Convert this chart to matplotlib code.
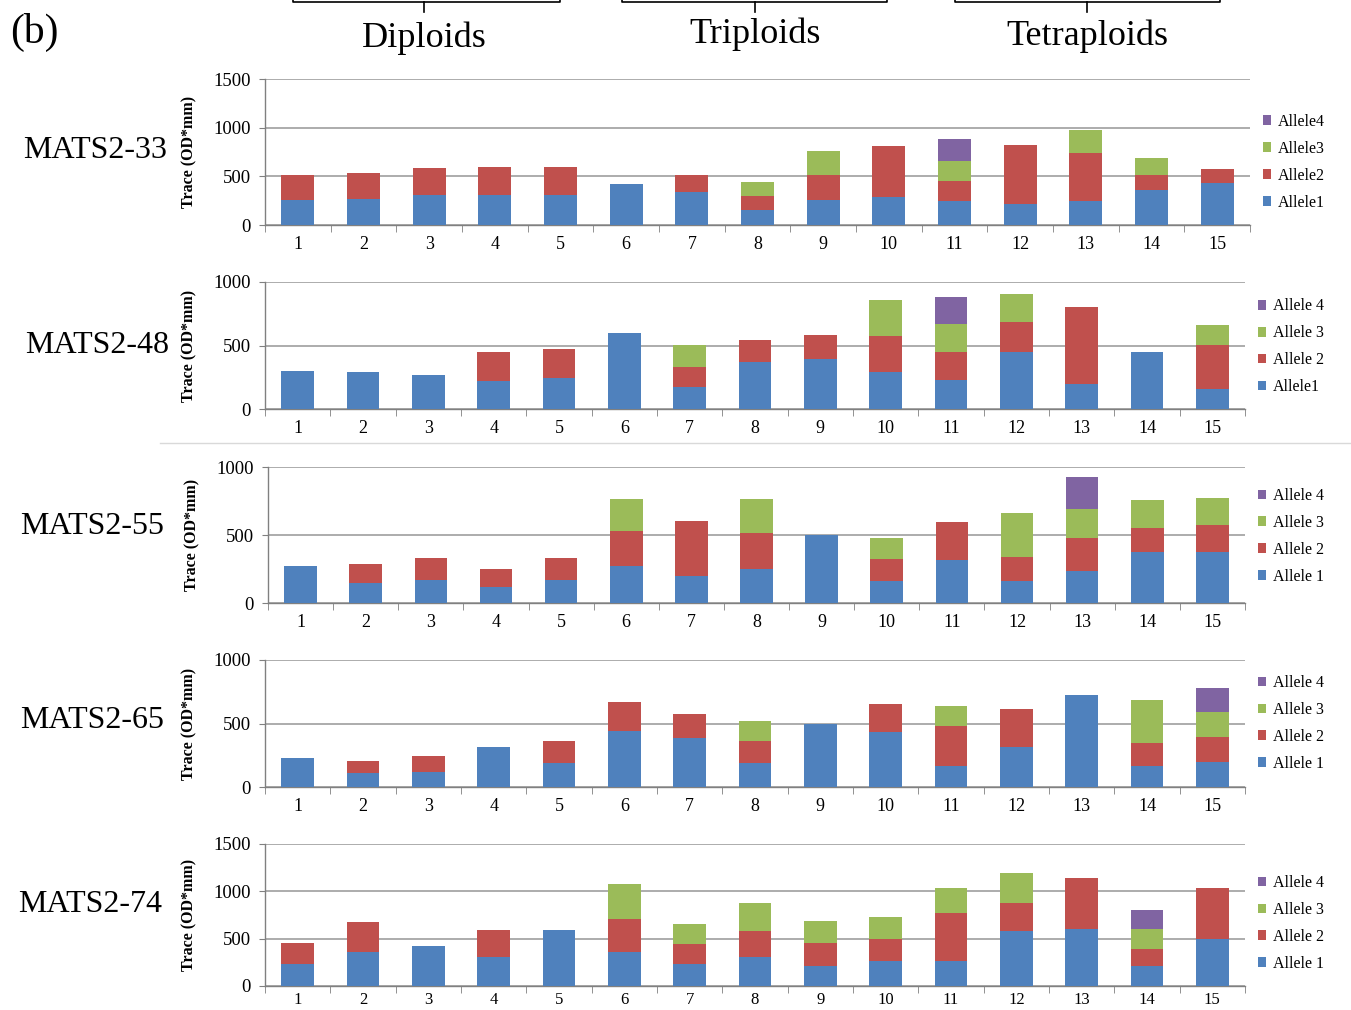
import matplotlib
matplotlib.use("Agg")
import matplotlib.pyplot as plt
from matplotlib.patches import Patch
import numpy as np

plt.rcParams['font.family'] = ['Liberation Serif', 'DejaVu Serif']

W, H = 1351, 1010

categories = [str(i) for i in range(1, 16)]
colors = ['#4F81BD', '#C0504D', '#9BBB59', '#8064A2']

# ---- data (stacked allele traces, OD*mm) ----
m33_a1 = [257, 264, 312, 312, 312, 421, 336, 154, 253, 284, 243, 216, 250, 360, 428]
m33_a2 = [257, 270, 270, 288, 288, 0, 178, 144, 261, 528, 206, 609, 490, 157, 147]
m33_a3 = [0, 0, 0, 0, 0, 0, 0, 140, 246, 0, 212, 0, 236, 168, 0]
m33_a4 = [0, 0, 0, 0, 0, 0, 0, 0, 0, 0, 219, 0, 0, 0, 0]

m48_a1 = [297, 289, 268, 223, 247, 596, 173, 373, 391, 289, 231, 449, 197, 449, 160]
m48_a2 = [0, 0, 0, 223, 223, 0, 158, 170, 194, 288, 215, 233, 604, 0, 341]
m48_a3 = [0, 0, 0, 0, 0, 0, 170, 0, 0, 281, 226, 224, 0, 0, 160]
m48_a4 = [0, 0, 0, 0, 0, 0, 0, 0, 0, 0, 213, 0, 0, 0, 0]

m55_a1 = [271, 147, 169, 120, 169, 271, 196, 249, 498, 161, 313, 161, 232, 377, 377]
m55_a2 = [0, 142, 161, 129, 161, 257, 408, 267, 0, 159, 284, 179, 245, 178, 198]
m55_a3 = [0, 0, 0, 0, 0, 237, 0, 249, 0, 157, 0, 325, 215, 201, 200]
m55_a4 = [0, 0, 0, 0, 0, 0, 0, 0, 0, 0, 0, 0, 235, 0, 0]

m65_a1 = [226, 113, 118, 312, 186, 438, 386, 186, 499, 433, 165, 312, 727, 165, 194]
m65_a2 = [0, 89, 129, 0, 176, 231, 191, 176, 0, 218, 313, 305, 0, 179, 202]
m65_a3 = [0, 0, 0, 0, 0, 0, 0, 160, 0, 0, 162, 0, 0, 338, 192]
m65_a4 = [0, 0, 0, 0, 0, 0, 0, 0, 0, 0, 0, 0, 0, 0, 192]

m74_a1 = [235, 362, 418, 306, 587, 358, 232, 306, 211, 260, 260, 576, 604, 207, 499]
m74_a2 = [222, 309, 0, 281, 0, 345, 214, 270, 246, 239, 513, 299, 538, 187, 531]
m74_a3 = [0, 0, 0, 0, 0, 372, 211, 299, 232, 232, 257, 316, 0, 207, 0]
m74_a4 = [0, 0, 0, 0, 0, 0, 0, 0, 0, 0, 0, 0, 0, 204, 0]

markers = ['MATS2-33', 'MATS2-48', 'MATS2-55', 'MATS2-65', 'MATS2-74']
ymaxes = [1500, 1000, 1000, 1000, 1500]
legend_labels = [
    ['Allele1', 'Allele2', 'Allele3', 'Allele4'],
    ['Allele1', 'Allele 2', 'Allele 3', 'Allele 4'],
    ['Allele 1', 'Allele 2', 'Allele 3', 'Allele 4'],
    ['Allele 1', 'Allele 2', 'Allele 3', 'Allele 4'],
    ['Allele 1', 'Allele 2', 'Allele 3', 'Allele 4'],
]
series = [
    [m33_a1, m33_a2, m33_a3, m33_a4],
    [m48_a1, m48_a2, m48_a3, m48_a4],
    [m55_a1, m55_a2, m55_a3, m55_a4],
    [m65_a1, m65_a2, m65_a3, m65_a4],
    [m74_a1, m74_a2, m74_a3, m74_a4],
]
groups = ['Diploids', 'Triploids', 'Tetraploids']

# ---- layout (pixels) ----
boxes = [  # left, right, top, bottom
    (265, 1250, 79, 225),
    (265, 1245, 282, 409),
    (268, 1245, 467, 603),
    (265, 1245, 660, 787),
    (265, 1245, 844, 986),
]
label_pos = [(95, 150), (97, 345), (92, 527), (92, 720), (90, 905)]
legend_anchor = [0.43, 0.49, 0.49, 0.50, 0.44]

fig = plt.figure(figsize=(W / 100, H / 100), dpi=100)

def fx(x):
    return x / W

def fy(y):
    return 1 - y / H

grid_col = '#A6A6A6'
for i in range(5):
    l, r, t, b = boxes[i]
    ax = fig.add_axes([fx(l), fy(b), fx(r) - fx(l), fy(t) - fy(b)])
    x = np.arange(len(categories))
    bottom = np.zeros(len(categories))
    handles = []
    for k in range(4):
        vals = np.array(series[i][k], dtype=float)
        ax.bar(x, vals, width=0.5, bottom=bottom, color=colors[k], edgecolor='none', zorder=3)
        bottom += vals
        handles.append(Patch(facecolor=colors[k], edgecolor='none', label=legend_labels[i][k]))
    ymax = ymaxes[i]
    ax.set_ylim(0, ymax)
    ax.set_xlim(-0.5, len(categories) - 0.5)
    ax.set_yticks(np.arange(0, ymax + 1, 500))
    ax.yaxis.grid(True, color=grid_col, linewidth=1.3, zorder=0)
    ax.set_axisbelow(True)
    ax.set_xticks(x)
    last = (i == 4)
    ax.set_xticklabels(categories, fontsize=12 if last else 13)
    ax.set_xticks(np.arange(-0.5, len(categories), 1.0), minor=True)
    ax.tick_params(axis='x', which='major', length=0, pad=4 if last else 8)
    ax.tick_params(axis='x', which='minor', length=5, color='#808080', direction='out')
    ax.tick_params(axis='y', which='major', length=4, color='#808080', labelsize=13.5, pad=6)
    for s in ['top', 'right']:
        ax.spines[s].set_visible(False)
    for s in ['left', 'bottom']:
        ax.spines[s].set_color('#808080')
        ax.spines[s].set_linewidth(1.0)
    ax.set_ylabel('Trace (OD*mm)', fontsize=11.5, fontweight='bold', labelpad=12)
    ax.legend(handles=handles[::-1], loc='center left', bbox_to_anchor=(1.003, legend_anchor[i]),
              frameon=False, fontsize=11.5, handlelength=0.55, handleheight=0.55,
              handletextpad=0.4, labelspacing=0.68, borderaxespad=0.2)
    lx, ly = label_pos[i]
    fig.text(fx(lx), fy(ly), markers[i], fontsize=23, ha='center', va='center')

# separator between panel 2 and 3
fig.add_artist(plt.Line2D([fx(160), fx(1351)], [fy(443), fy(443)], color='#D9D9D9', linewidth=1))

# header
fig.text(fx(10), fy(32), '(b)', fontsize=30, ha='left', va='center')
bracket = [(293, 560, 424), (622, 887, 755), (955, 1220, 1087)]
head_y = [38, 34, 36]
for (a, b, c), g, hy in zip(bracket, groups, head_y):
    fig.add_artist(plt.Line2D([fx(a), fx(a), fx(b), fx(b)], [fy(-5), fy(2), fy(2), fy(-5)],
                              color='black', linewidth=1.2))
    fig.add_artist(plt.Line2D([fx(c), fx(c)], [fy(2), fy(12)], color='black', linewidth=1.2))
    fig.text(fx(c), fy(hy), g, fontsize=26, ha='center', va='center')

fig.savefig('out.png', dpi=100)
